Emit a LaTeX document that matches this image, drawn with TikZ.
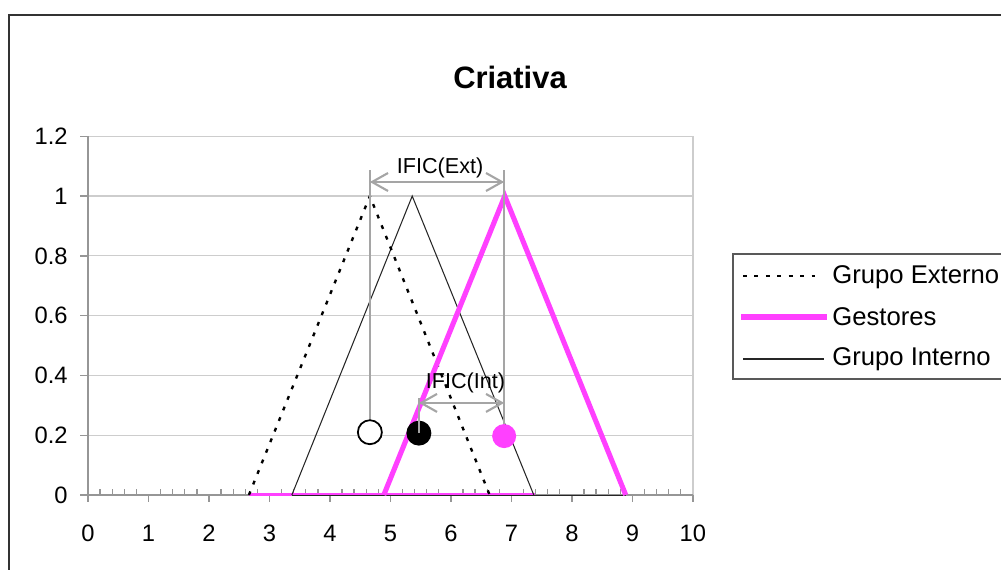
\documentclass[tikz,border=0pt]{standalone}
\usepackage{fontspec}
\setmainfont{Liberation Sans}
\usepackage{xcolor}
\usepackage{tikz}
\usetikzlibrary{arrows.meta}
\definecolor{gestpink}{RGB}{255,64,255}
\definecolor{gridgray}{RGB}{205,205,205}
\definecolor{axisgray}{RGB}{150,150,150}
\definecolor{ificgray}{RGB}{165,165,165}
\tikzstyle{chartframe} = [draw=black!80, line width=1.2pt]
\tikzstyle{legbox} = [draw=black!65, line width=0.9pt]
\tikzstyle{gridline} = [draw=gridgray, line width=0.7pt]
\tikzstyle{axisline} = [draw=axisgray, line width=0.75pt]
\tikzstyle{extline} = [black, line width=1.35pt, dash pattern=on 2.2pt off 4.3pt]
\tikzstyle{gesline} = [gestpink, line width=2.9pt]
\tikzstyle{gesbase} = [gestpink, line width=1.4pt]
\tikzstyle{intline} = [black!85, line width=0.6pt]
\tikzstyle{ificline} = [ificgray, line width=1.2pt]
\tikzstyle{ificarrow} = [ificgray, line width=1.2pt, {Straight Barb[length=0.32cm, width=0.36cm]}-{Straight Barb[length=0.32cm, width=0.36cm]}]
\tikzstyle{hollowdot} = [circle, minimum size=0.48cm, inner sep=0pt, draw=black, line width=1pt, fill=white]
\tikzstyle{blackdot} = [circle, minimum size=0.5cm, inner sep=0pt, fill=black]
\tikzstyle{pinkdot} = [circle, minimum size=0.48cm, inner sep=0pt, fill=gestpink]
\tikzstyle{ticklab} = [inner sep=0pt, font=\fontsize{13.5}{16}\selectfont]
\tikzstyle{leglab} = [inner sep=0pt, anchor=west, font=\fontsize{14.6}{17}\selectfont]
\tikzstyle{ificlab} = [inner sep=0pt, font=\fontsize{12.3}{14}\selectfont]
\tikzstyle{titlelab} = [inner sep=0pt, font=\bfseries\fontsize{17.6}{20}\selectfont]

\begin{document}
\begin{tikzpicture}[x=0.02cm, y=-0.02cm]
\useasboundingbox (0,0) rectangle (1001,570);
\draw [chartframe] (9,15) rectangle (1040,620);

\node (title) [titlelab] at (510,77) {Criativa};

\begin{scope}[shift={(88,495)}, x=1.21cm, y=5.98cm]
% grid and plot area
\foreach \y in {0.2,0.4,0.6,0.8,1,1.2}
  \draw [gridline] (0,\y) -- (10,\y);
\draw [gridline] (10,0) -- (10,1.2);

% axes
\draw [axisline] (0,0) -- (0,1.2);
\draw [axisline] (0,0) -- (10,0);
\foreach \y/\t [count=\i] in {0/0, 0.2/0.2, 0.4/0.4, 0.6/0.6, 0.8/0.8, 1/1, 1.2/1.2} {
  \draw [axisline] (0,\y) -- ++(-0.16cm,0);
  \node (ylab\i) [ticklab, anchor=east] at ([xshift=-0.4cm]0,\y) {\t};
}
\foreach \x in {0,...,10} {
  \draw [axisline] (\x,0) -- ++(0,-0.14cm);
  \node (xlab\x) [ticklab] at ([yshift=-0.77cm]\x,0) {\x};
}
\foreach \x in {0,...,9}
  \foreach \m in {0.2,0.4,0.6,0.8}
    \draw [axisline] (\x+\m,0) -- ++(0,0.12cm);

% series
\draw [gesbase] ([yshift=0.3pt]2.66,0) -- ([yshift=0.3pt]7.39,0);
\draw [intline] ([yshift=-0.4pt]3.37,0) -- ([yshift=-0.4pt]8.89,0);
\draw [intline] (3.37,0) -- (5.36,1) -- (7.37,0);
\draw [extline] (2.66,0) -- (4.66,1) -- (6.64,0);
\draw [gesline] (4.89,0) -- (6.89,1) -- (8.89,0);

% IFIC markers
\node (cint) [blackdot] at (5.47,0.207) {};
\coordinate (extTop) at (4.66,1.087);
\coordinate (gesTop) at (6.88,1.087);
\coordinate (intTop) at (5.47,0.324);
\coordinate (extL) at (4.66,1.047);
\coordinate (extR) at (6.88,1.047);
\coordinate (intL) at (5.47,0.308);
\coordinate (intR) at (6.88,0.308);
\draw [ificline] (4.66,0.21) -- (extTop);
\draw [ificline] (6.88,0.197) -- (gesTop);
\draw [ificline] (cint.center) -- (intTop);
\draw [ificarrow] (extL) -- (extR);
\draw [ificarrow] (intL) -- (intR);
\node (cext) [hollowdot] at (4.66,0.21) {};
\node (cges) [pinkdot] at (6.88,0.197) {};
\node (ificext) [ificlab] at (5.82,1.095) {IFIC(Ext)};
\node (ificint) [ificlab] at (6.24,0.375) {IFIC(Int)};
\end{scope}

% legend
\draw [legbox] (733,254) rectangle (1040,379);
\draw [extline] (743,276) -- (818,276);
\node (lgext) [leglab] at (832,277.5) {Grupo Externo};
\draw [gesline] (741,317) -- (827,317);
\node (lgges) [leglab] at (832,316.5) {Gestores};
\draw [intline] (743,359) -- (824,359);
\node (lgint) [leglab] at (832,359) {Grupo Interno};
\end{tikzpicture}
\end{document}
